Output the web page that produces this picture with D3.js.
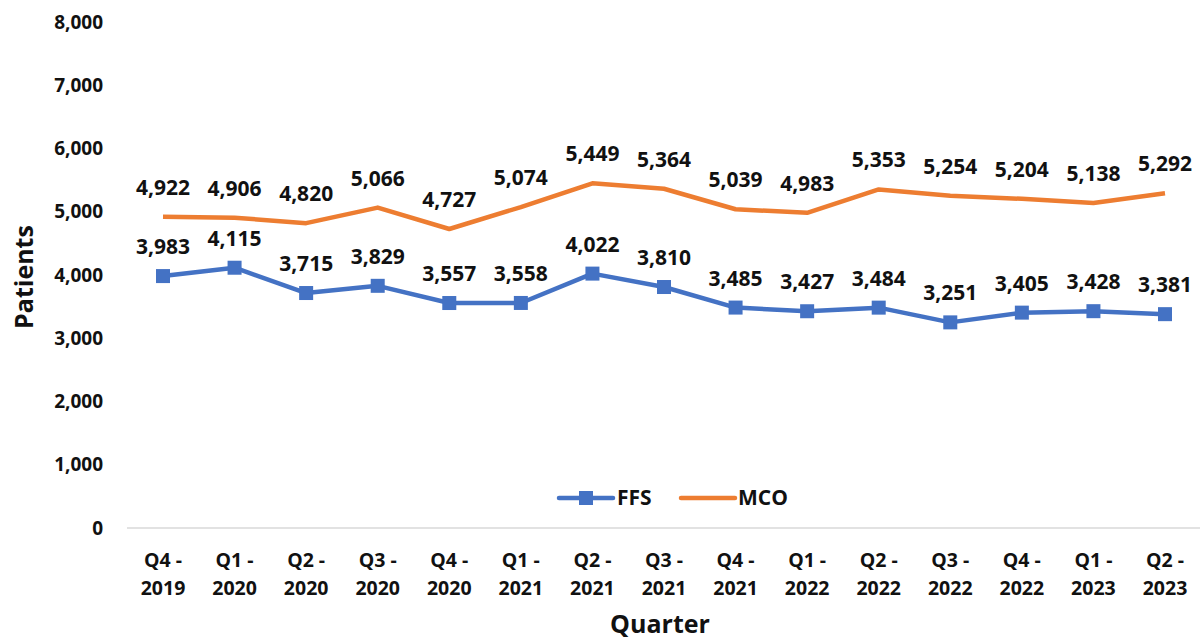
<!DOCTYPE html>
<html>
<head>
  <script src="https://d3js.org/d3.v7.min.js"></script>
  <style>
    body { margin: 0; background: #fff; font-family: "Open Sans", Arial, sans-serif; }
    svg text { font-weight: 700; fill: #111; }
  </style>
</head>
<body>
  <svg id="chart" width="1202" height="641"></svg>
  <script>
    const quarters = ["Q4 - 2019", "Q1 - 2020", "Q2 - 2020", "Q3 - 2020", "Q4 - 2020", "Q1 - 2021",
      "Q2 - 2021", "Q3 - 2021", "Q4 - 2021", "Q1 - 2022", "Q2 - 2022", "Q3 - 2022", "Q4 - 2022",
      "Q1 - 2023", "Q2 - 2023"];
    const ffs = [3983, 4115, 3715, 3829, 3557, 3558, 4022, 3810, 3485, 3427, 3484, 3251, 3405, 3428, 3381];
    const mco = [4922, 4906, 4820, 5066, 4727, 5074, 5449, 5364, 5039, 4983, 5353, 5254, 5204, 5138, 5292];
    const yTicks = [0, 1000, 2000, 3000, 4000, 5000, 6000, 7000, 8000];

    const svg = d3.select("#chart");
    const fmt = d3.format(",");

    const x = d3.scalePoint().domain(quarters).range([163, 1165]);
    const y = d3.scaleLinear().domain([0, 8000]).range([528, 22]);

    // y tick labels (no axis line)
    svg.append("g").selectAll("text")
      .data(yTicks).enter().append("text")
      .attr("x", 103).attr("y", d => y(d)).attr("dy", "0.35em")
      .attr("text-anchor", "end").style("font-size", "19px")
      .text(d => fmt(d));

    // baseline
    svg.append("line")
      .attr("x1", 127).attr("x2", 1200)
      .attr("y1", y(0)).attr("y2", y(0))
      .attr("stroke", "#d9d9d9").attr("stroke-width", 1.5);

    // x tick labels, two lines
    const xl = svg.append("g").selectAll("text")
      .data(quarters).enter().append("text")
      .attr("text-anchor", "middle").style("font-size", "19.5px");
    xl.append("tspan").attr("x", d => x(d)).attr("y", 567).text(d => d.split(" - ")[0] + " -");
    xl.append("tspan").attr("x", d => x(d)).attr("y", 595).text(d => d.split(" - ")[1]);

    // axis titles
    svg.append("text").attr("x", 660).attr("y", 633)
      .attr("text-anchor", "middle").style("font-size", "25px").text("Quarter");
    svg.append("text").attr("transform", "translate(33,277) rotate(-90)")
      .attr("text-anchor", "middle").style("font-size", "25px").text("Patients");

    const line = d3.line().x((d, i) => x(quarters[i])).y(d => y(d));

    const series = [
      { name: "FFS", values: ffs, color: "#4472C4", marker: true },
      { name: "MCO", values: mco, color: "#ED7D31", marker: false }
    ];

    series.forEach(s => {
      svg.append("path").datum(s.values)
        .attr("fill", "none").attr("stroke", s.color)
        .attr("stroke-width", 4.5).attr("stroke-linejoin", "round")
        .attr("d", line);
      if (s.marker) {
        svg.append("g").selectAll("rect")
          .data(s.values).enter().append("rect")
          .attr("x", (d, i) => x(quarters[i]) - 7)
          .attr("y", d => y(d) - 7)
          .attr("width", 14).attr("height", 14)
          .attr("fill", s.color);
      }
      svg.append("g").selectAll("text")
        .data(s.values).enter().append("text")
        .attr("x", (d, i) => x(quarters[i]))
        .attr("y", d => y(d) - 22)
        .attr("text-anchor", "middle").style("font-size", "21px")
        .text(d => fmt(d));
    });

    // legend
    const lg = svg.append("g");
    lg.append("line").attr("x1", 559).attr("x2", 613).attr("y1", 498).attr("y2", 498)
      .attr("stroke", "#4472C4").attr("stroke-width", 4.5).attr("stroke-linecap", "round");
    lg.append("rect").attr("x", 579).attr("y", 491).attr("width", 14).attr("height", 14).attr("fill", "#4472C4");
    lg.append("text").attr("x", 617).attr("y", 498).attr("dy", "0.35em").style("font-size", "21px").text("FFS");
    lg.append("line").attr("x1", 681).attr("x2", 735).attr("y1", 498).attr("y2", 498)
      .attr("stroke", "#ED7D31").attr("stroke-width", 4.5).attr("stroke-linecap", "round");
    lg.append("text").attr("x", 738).attr("y", 498).attr("dy", "0.35em").style("font-size", "21px").text("MCO");
  </script>
</body>
</html>
